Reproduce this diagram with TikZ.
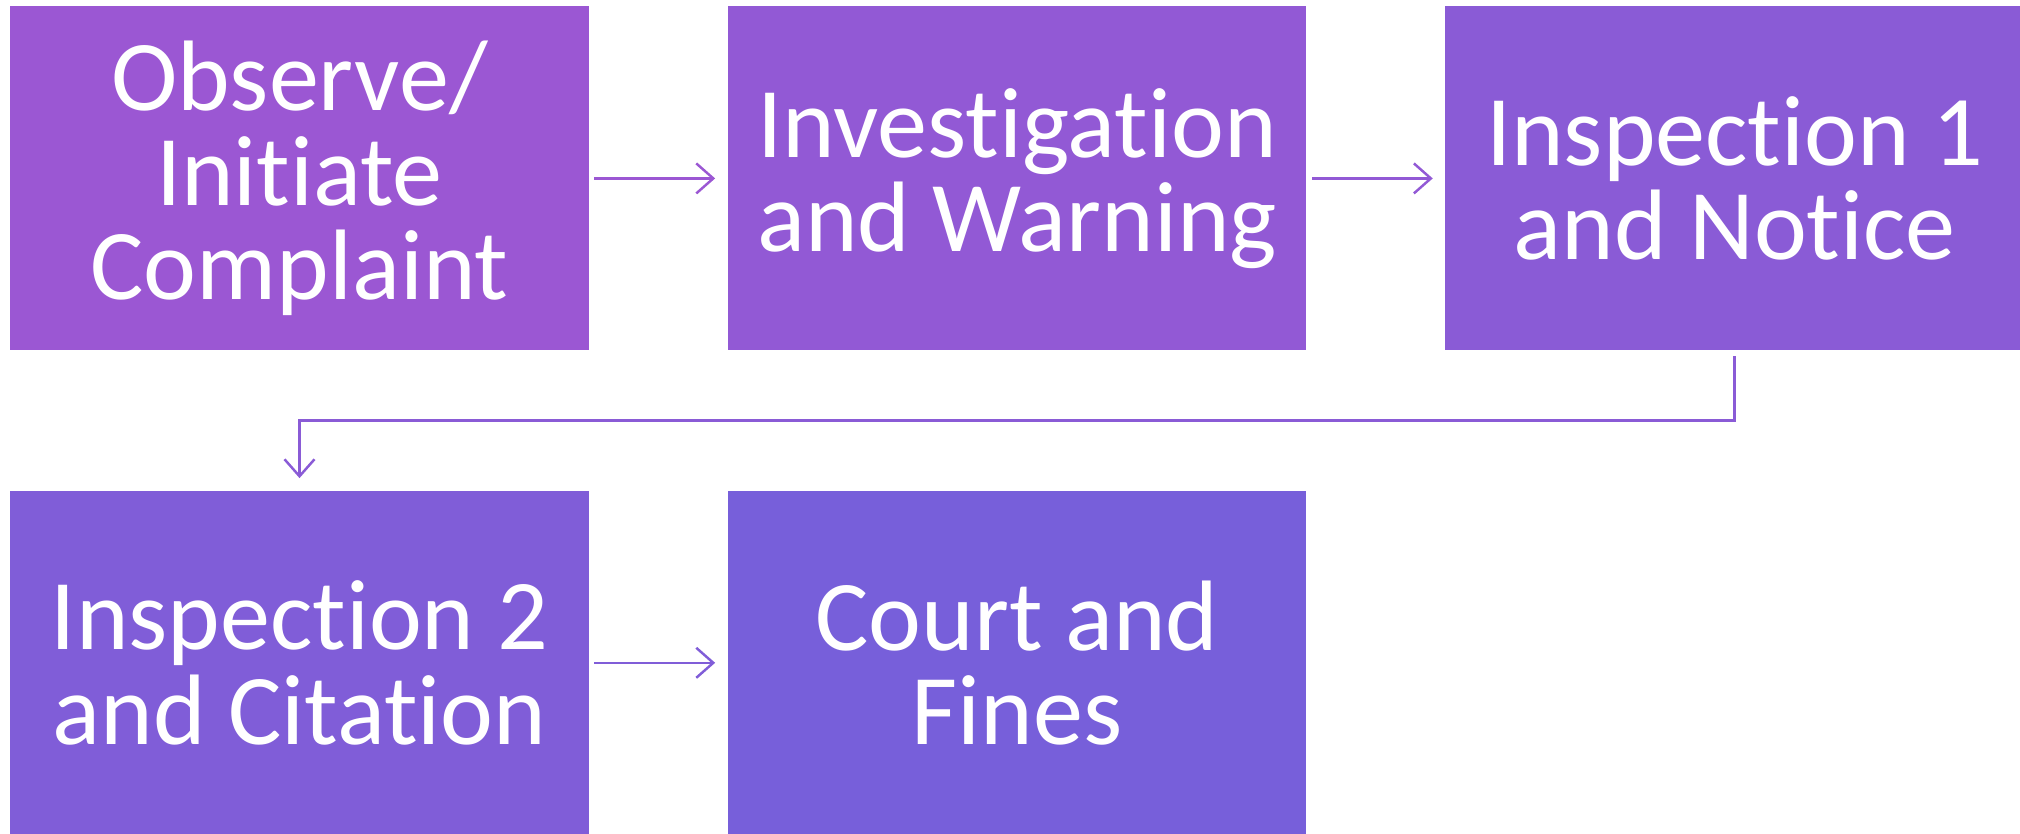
\documentclass[tikz,border=0pt]{standalone}
\usepackage{fontspec}
\setmainfont{Carlito}[Ligatures={NoCommon,NoRare,NoContextual}]
\usetikzlibrary{arrows.meta}

\definecolor{stagea}{RGB}{155,87,211}
\definecolor{stageb}{RGB}{146,89,213}
\definecolor{stagec}{RGB}{138,91,214}
\definecolor{staged}{RGB}{128,93,216}
\definecolor{stagee}{RGB}{119,95,218}

\begin{document}
\begin{tikzpicture}[node distance=7.176cm,
    >={Straight Barb[length=1.7mm,width=3mm]},
    stage/.style={fill=#1, text=white, minimum width=5.785cm, minimum height=3.44cm,
      inner sep=0pt, align=center, font=\fontsize{28.5}{26.8}\selectfont},
    link/.style={->, draw=#1, line width=0.7pt, shorten <=0.5mm, shorten >=1.2mm}]
      \useasboundingbox (0,0) rectangle (20.2,-8.33);

      \node [stage=stagea] (1) at (2.995,-1.784) {Observe/\\Initiate\\Complaint};
      \node [stage=stageb, right of=1] (2) {Investigation\\and Warning};
      \node [stage=stagec, right of=2] (3) {Inspection 1\\and Notice};
      \node [stage=staged, below of=1, node distance=4.844cm] (4) {Inspection 2\\and Citation};
      \node [stage=stagee, right of=4] (5) {Court and\\Fines};

      \path (3.south) -- coordinate[midway] (k) (4.north);

      \draw[link=stagea] (1) -- (2);
      \draw[link=stageb] (2) -- (3);
      \draw[link=stagec] (3.south) -- (3.south |- k) -- (4.north |- k) -- (4.north);
      \draw[link=staged] (4) -- (5);
    \end{tikzpicture}
\end{document}
